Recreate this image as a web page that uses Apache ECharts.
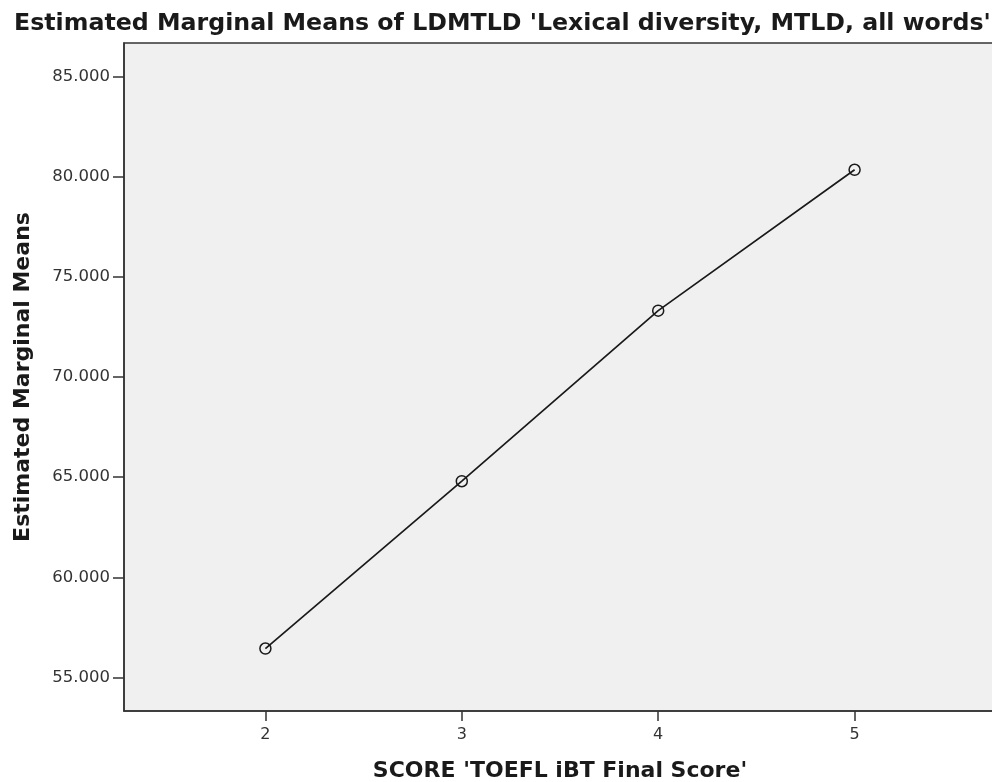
<html>
<head>
    <meta http-equiv="Content-Type" content="text/html; charset=utf-8" />
    <style>body{margin:0;background:#fff;}</style>
</head>
<script type="text/javascript" src="https://cdn.jsdelivr.net/npm/echarts@6/dist/echarts.min.js"></script>
<body>
<div id="main" style="width: 992px;height:782px;"></div>
</body>
<script type="text/javascript">
    // data
    var scores = [2, 3, 4, 5];
    var means = [56.45, 64.80, 73.31, 80.34];
    var yTicks = [55, 60, 65, 70, 75, 80, 85];

    var points = scores.map(function (s, i) { return [s, means[i]]; });
    var font = 'DejaVu Sans';

    var myChart = echarts.init(document.getElementById('main'));
    var option = {
        backgroundColor: '#ffffff',
        animation: false,
        title: {
            text: "Estimated Marginal Means of LDMTLD 'Lexical diversity, MTLD, all words'",
            left: 9,
            top: 7,
            textStyle: { fontFamily: font, fontWeight: 'bold', fontSize: 23.7, color: '#1a1a1a' }
        },
        grid: {
            left: 124,
            width: 872,
            top: 43,
            bottom: 71,
            outerBoundsMode: 'none',
            show: true,
            backgroundColor: '#f0f0f0',
            borderColor: '#333333',
            borderWidth: 1.5
        },
        xAxis: {
            type: 'value',
            min: 1.28,
            max: 5.72,
            name: "SCORE 'TOEFL iBT Final Score'",
            nameLocation: 'middle',
            nameGap: 49,
            nameTextStyle: { fontFamily: font, fontWeight: 'bold', fontSize: 22, color: '#1a1a1a' },
            splitLine: { show: false },
            axisLine: { lineStyle: { color: '#333333', width: 1.5 } },
            axisTick: { length: 10, lineStyle: { color: '#333333', width: 1.5 }, customValues: scores },
            axisLabel: { customValues: scores, margin: 16, fontFamily: font, fontSize: 16, color: '#333333' }
        },
        yAxis: {
            type: 'value',
            min: 53.333,
            max: 86.667,
            name: 'Estimated Marginal Means',
            nameLocation: 'middle',
            nameGap: 90,
            nameTextStyle: { fontFamily: font, fontWeight: 'bold', fontSize: 22, color: '#1a1a1a' },
            splitLine: { show: false },
            axisLine: { lineStyle: { color: '#333333', width: 1.5 } },
            axisTick: { length: 11, lineStyle: { color: '#333333', width: 1.5 }, customValues: yTicks },
            axisLabel: {
                customValues: yTicks,
                margin: 14,
                fontFamily: font,
                fontSize: 16.5,
                color: '#333333',
                formatter: function (v) { return v.toFixed(3); }
            }
        },
        series: [{
            type: 'line',
            data: points,
            symbol: 'circle',
            symbolSize: 11,
            lineStyle: { color: '#1a1a1a', width: 1.7 },
            itemStyle: { color: 'rgba(0,0,0,0)', borderColor: '#1a1a1a', borderWidth: 1.5 }
        }]
    };
    myChart.setOption(option);
</script>
</html>
